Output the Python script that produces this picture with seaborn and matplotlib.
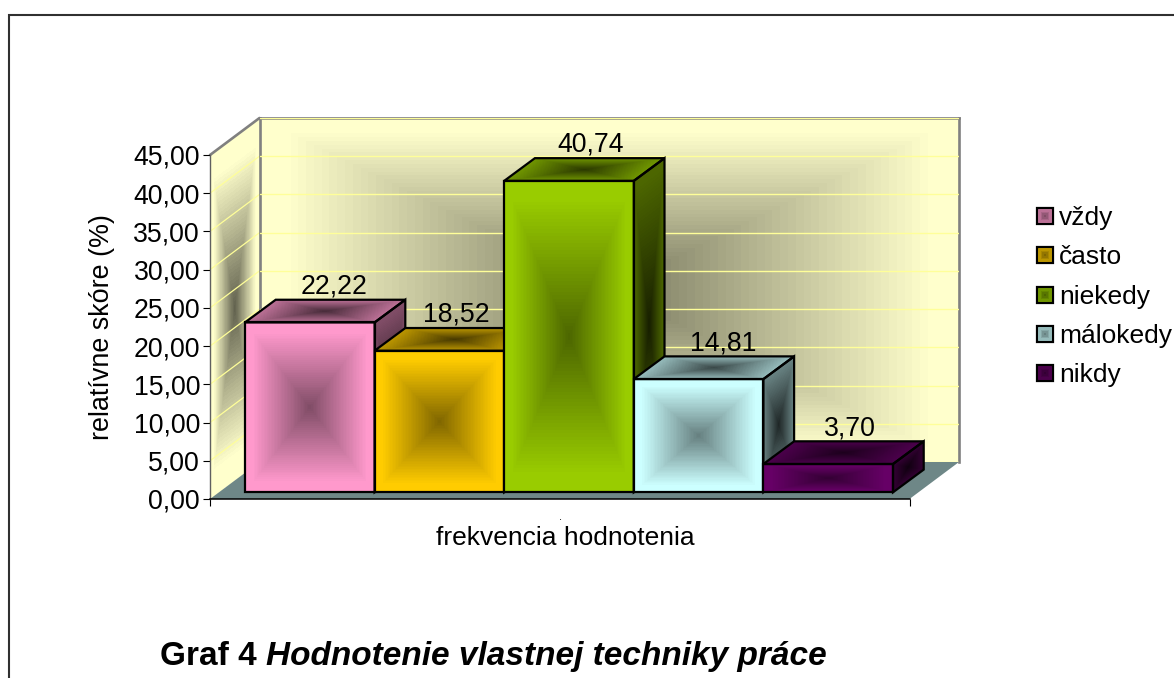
#!/usr/bin/env python3
"""Bar chart in the old spreadsheet 3D look: relative score per rating frequency."""

import matplotlib

matplotlib.use("Agg")

import matplotlib.pyplot as plt
import numpy as np
import pandas as pd
import seaborn as sns
from matplotlib.colors import to_rgb
from matplotlib.patches import Polygon

CATEGORIES = ["vždy", "často", "niekedy", "málokedy", "nikdy"]
VALUES = [22.22, 18.52, 40.74, 14.81, 3.70]
Y_TICKS = [0, 5, 10, 15, 20, 25, 30, 35, 40, 45]

BAR_COLORS = ["#FF99CC", "#FFCC00", "#99CC00", "#CCFFFF", "#660066"]
WALL_COLOR = "#FFFFCC"
FLOOR_COLOR = "#6E8787"
GRID_COLOR = "#FFFF99"
EDGE_GRAY = "#808080"

W, H = 1174, 678
FONT = 19.2

# chart box in image pixels
FRONT_L, FRONT_R, FRONT_B, FRONT_T = 210, 909.5, 499, 155
DEPTH_PX = (49.5, 37)
BARS_L, BARS_R, BARS_B = 245, 893, 492.3
BAR_DEPTH_PX = (30.7, 22.7)
LABEL_DX = [24, 17, 21.5, 25, 22]
LABEL_DY = 29


def add_box(fig, left, right, bottom, top, **kwargs):
    """Axes placed by image pixels (y counted from the top)."""
    rect = [left / W, 1 - bottom / H, (right - left) / W, (bottom - top) / H]
    return fig.add_axes(rect, **kwargs)


def pyramid(color, edge=1.0, centre=0.5, reach=0.92, n=90):
    """RGB cells of a 'from centre' fill, dark in the middle."""
    base = np.array(to_rgb(color))
    mid = (np.arange(n) + 0.5) / n * 2 - 1
    u, v = np.meshgrid(mid, mid)
    t = np.clip(np.maximum(np.abs(u), np.abs(v)) / reach, 0, 1)[..., None]
    return np.clip(base * (centre + (edge - centre) * t), 0, 1)


def fill_quad(ax, origin, e1, e2, color, zorder, **kwargs):
    cells = pyramid(color, **kwargs)
    n = cells.shape[0]
    s, t = np.meshgrid(np.linspace(0, 1, n + 1), np.linspace(0, 1, n + 1))
    xx = origin[0] + s * e1[0] + t * e2[0]
    yy = origin[1] + s * e1[1] + t * e2[1]
    ax.pcolormesh(xx, yy, cells, shading="flat", antialiased=False,
                  linewidth=0, zorder=zorder, clip_on=False)


def outline(ax, points, zorder, lw=1.6, color="black"):
    ax.add_patch(Polygon(points, closed=True, facecolor="none", edgecolor=color,
                         linewidth=lw, zorder=zorder, clip_on=False,
                         joinstyle="miter"))


sns.set_style("white")
plt.rcParams["font.family"] = ["Liberation Sans", "DejaVu Sans"]

fig = plt.figure(figsize=(W / 100, H / 100), dpi=100, facecolor="white")

# background layer in pixel coordinates: frame, side wall, floor
bg = add_box(fig, 0, W, H, 0, zorder=0)
bg.set_xlim(0, W)
bg.set_ylim(H, 0)
bg.axis("off")
bg.plot([8.5, 8.5, W], [H, 15, 15], color="#303030", lw=1.5, solid_joinstyle="miter")

dx, dy = DEPTH_PX
wall_h = FRONT_B - FRONT_T
fill_quad(bg, (FRONT_L, FRONT_T), (dx, -dy), (0, wall_h), WALL_COLOR, 1, centre=0.38, reach=0.85)
unit_px = wall_h / Y_TICKS[-1]
for tick in Y_TICKS[1:-1]:
    y = FRONT_B - tick * unit_px
    bg.plot([FRONT_L, FRONT_L + dx], [y, y - dy], color=GRID_COLOR, lw=0.9, zorder=2)
bg.plot([FRONT_L, FRONT_L + dx], [FRONT_T, FRONT_T - dy], color=EDGE_GRAY, lw=1.9, zorder=3)
bg.add_patch(Polygon([(FRONT_L, FRONT_B), (FRONT_R, FRONT_B),
                      (FRONT_R + dx, FRONT_B - dy), (FRONT_L + dx, FRONT_B - dy)],
                     closed=True, facecolor=FLOOR_COLOR, edgecolor="none", zorder=1))

# back wall: a real axes carrying the grid
back = add_box(fig, FRONT_L + dx, FRONT_R + dx, FRONT_B - dy, FRONT_T - dy, zorder=1)
back.set_xlim(0, 1)
back.set_ylim(Y_TICKS[0], Y_TICKS[-1])
fill_quad(back, (0, 0), (1, 0), (0, Y_TICKS[-1]), WALL_COLOR, 0, centre=0.46, reach=0.92)
back.set_xticks([])
back.set_yticks(Y_TICKS)
back.tick_params(left=False, labelleft=False)
back.yaxis.grid(True, color=GRID_COLOR, lw=1.0, zorder=1)
back.set_axisbelow(False)
for side, spine in back.spines.items():
    spine.set_visible(side != "bottom")
    spine.set_color(EDGE_GRAY)
    spine.set_linewidth(1.9)

# front axes: the value scale and the axis titles
ax = add_box(fig, FRONT_L, FRONT_R, FRONT_B, FRONT_T, zorder=2)
ax.patch.set_alpha(0)
ax.set_ylim(Y_TICKS[0], Y_TICKS[-1])
ax.set_yticks(Y_TICKS)
ax.set_yticklabels([f"{t:.2f}".replace(".", ",") for t in Y_TICKS], fontsize=FONT, color="black")
ax.set_xlim(0, 1)
ax.set_xticks([0, 1])
ax.set_xticklabels([])
ax.tick_params(axis="both", length=5.2, width=0.8, color="black", left=True, bottom=True, pad=2)
for side, spine in ax.spines.items():
    spine.set_visible(side in ("left", "bottom"))
ax.spines["left"].set_color("#606060")
ax.spines["left"].set_linewidth(1.0)
ax.spines["bottom"].set_color("black")
ax.spines["bottom"].set_linewidth(1.1)
ax.set_ylabel("relatívne skóre (%)", fontsize=19.4, color="black", labelpad=13)
ax.set_xlabel("frekvencia hodnotenia", fontsize=19.0, color="black", labelpad=12, x=0.508)

# bars: front plane of the columns, same value scale as the front axes
bar_ax = add_box(fig, BARS_L, BARS_R, BARS_B, BARS_B - wall_h, zorder=3)
bar_ax.patch.set_alpha(0)
df = pd.DataFrame({"frekvencia": CATEGORIES, "skore": VALUES})
sns.barplot(data=df, x="frekvencia", y="skore", hue="frekvencia", palette=BAR_COLORS,
            width=1.0, saturation=1, legend=False, ax=bar_ax)
bar_ax.set_xlim(-0.5, len(CATEGORIES) - 0.5)
bar_ax.set_ylim(Y_TICKS[0], Y_TICKS[-1])
bar_ax.axis("off")

# faces go on a numeric twin, the bar axes has a categorical x
faces = add_box(fig, BARS_L, BARS_R, BARS_B, BARS_B - wall_h, zorder=3.5)
faces.patch.set_alpha(0)
faces.axis("off")

depth_x = BAR_DEPTH_PX[0] * len(CATEGORIES) / (BARS_R - BARS_L)
depth_y = BAR_DEPTH_PX[1] / unit_px

for i, (patch, value, color) in enumerate(zip(bar_ax.patches, VALUES, BAR_COLORS)):
    x0, w, h = patch.get_x(), patch.get_width(), patch.get_height()
    z = 10 + i * 5
    # right side, top, front
    fill_quad(faces, (x0 + w, 0), (depth_x, depth_y), (0, h), color, z,
              edge=0.5, centre=0.15, reach=0.95)
    fill_quad(faces, (x0, h), (w, 0), (depth_x, depth_y), color, z,
              edge=0.72, centre=0.28, reach=0.95)
    fill_quad(faces, (x0, 0), (w, 0), (0, h), color, z + 1, centre=0.5, reach=0.88)
    outline(faces, [(x0 + w, 0), (x0 + w + depth_x, depth_y),
                    (x0 + w + depth_x, h + depth_y), (x0 + w, h)], z + 2)
    outline(faces, [(x0, h), (x0 + depth_x, h + depth_y),
                    (x0 + w + depth_x, h + depth_y), (x0 + w, h)], z + 2)
    outline(faces, [(x0, 0), (x0 + w, 0), (x0 + w, h), (x0, h)], z + 2)
    faces.annotate(f"{value:.2f}".replace(".", ","), (x0 + w / 2, h),
                   xytext=(LABEL_DX[i] * 0.72, LABEL_DY * 0.72), textcoords="offset points",
                   ha="center", va="baseline", fontsize=FONT, color="black",
                   zorder=60, annotation_clip=False)
faces.set_xlim(-0.5, len(CATEGORIES) - 0.5)
faces.set_ylim(Y_TICKS[0], Y_TICKS[-1])

# legend keys share the column fills
overlay = add_box(fig, 0, W, H, 0, zorder=4)
overlay.set_xlim(0, W)
overlay.set_ylim(H, 0)
overlay.axis("off")
LEGEND_YS = [216, 255, 295, 334, 373]
for name, color, y in zip(CATEGORIES, BAR_COLORS, LEGEND_YS):
    fill_quad(overlay, (1037, y - 8), (16, 0), (0, 16), color, 1, edge=0.85, centre=0.5, n=9, reach=1.0)
    outline(overlay, [(1037, y - 8), (1053, y - 8), (1053, y + 8), (1037, y + 8)], 2)
    overlay.text(1059, y + 9, name, fontsize=19.0, color="black", va="baseline", ha="left")

overlay.text(561, 520, ".", fontsize=8, color="black", ha="center", va="baseline")

# caption: bold lead-in, bold italic remainder
lead = overlay.text(160, 665, "Graf 4 ", fontsize=24, fontweight="bold", color="black", va="baseline")
fig.canvas.draw()
end = lead.get_window_extent().x1
overlay.text(end, 665, "Hodnotenie vlastnej techniky práce", fontsize=24,
             fontweight="bold", fontstyle="italic", color="black", va="baseline")

fig.savefig("out.png", dpi=100)
